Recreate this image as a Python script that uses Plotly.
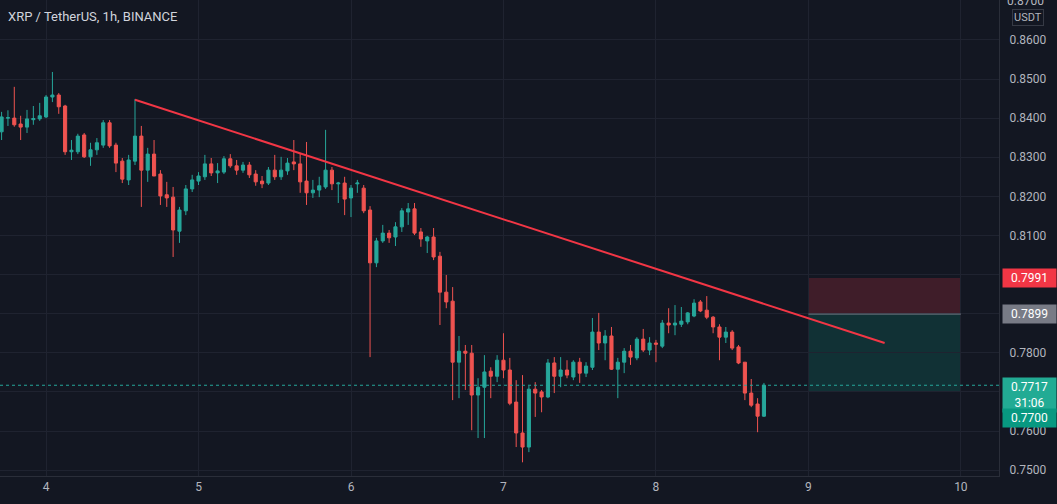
import plotly.graph_objects as go
import pandas as pd

# hourly XRP/USDT candles, 3 Jan 17:00 -> 8 Jan 17:00
times = pd.date_range("2022-01-03 17:00", periods=121, freq="h")

opens = [0.8365, 0.8400, 0.8400, 0.8385, 0.8377, 0.8396, 0.8398, 0.8403, 0.8454, 0.8459,
         0.8431, 0.8314, 0.8314, 0.8357, 0.8301, 0.8319, 0.8331, 0.8388, 0.8331, 0.8290,
         0.8242, 0.8290, 0.8354, 0.8267, 0.8308, 0.8257, 0.8204, 0.8198, 0.8111, 0.8163,
         0.8219, 0.8239, 0.8250, 0.8283, 0.8260, 0.8262, 0.8296, 0.8278, 0.8267, 0.8280,
         0.8257, 0.8239, 0.8234, 0.8267, 0.8250, 0.8265, 0.8288, 0.8283, 0.8239, 0.8209,
         0.8216, 0.8224, 0.8267, 0.8232, 0.8234, 0.8196, 0.8232, 0.8221, 0.8165, 0.8030,
         0.8086, 0.8106, 0.8096, 0.8122, 0.8160, 0.8168, 0.8109, 0.8086, 0.8096, 0.8047,
         0.7955, 0.7932, 0.7776, 0.7804, 0.7799, 0.7692, 0.7712, 0.7753, 0.7740, 0.7781,
         0.7756, 0.7674, 0.7595, 0.7559, 0.7707, 0.7700, 0.7687, 0.7774, 0.7740, 0.7756,
         0.7738, 0.7776, 0.7748, 0.7763, 0.7853, 0.7825, 0.7843, 0.7758, 0.7776, 0.7804,
         0.7787, 0.7835, 0.7807, 0.7825, 0.7817, 0.7876, 0.7871, 0.7873, 0.7879, 0.7894,
         0.7930, 0.7909, 0.7891, 0.7866, 0.7840, 0.7853, 0.7815, 0.7776, 0.7697, 0.7669,
         0.7638]
highs = [0.8416, 0.8420, 0.8480, 0.8406, 0.8421, 0.8431, 0.8439, 0.8459, 0.8518, 0.8464,
         0.8434, 0.8344, 0.8360, 0.8362, 0.8337, 0.8349, 0.8395, 0.8395, 0.8337, 0.8298,
         0.8306, 0.8449, 0.8380, 0.8324, 0.8344, 0.8267, 0.8237, 0.8224, 0.8173, 0.8229,
         0.8255, 0.8262, 0.8306, 0.8298, 0.8285, 0.8303, 0.8308, 0.8293, 0.8288, 0.8288,
         0.8267, 0.8252, 0.8275, 0.8306, 0.8301, 0.8298, 0.8344, 0.8311, 0.8339, 0.8242,
         0.8250, 0.8370, 0.8275, 0.8237, 0.8250, 0.8229, 0.8242, 0.8229, 0.8175, 0.8094,
         0.8127, 0.8114, 0.8134, 0.8170, 0.8183, 0.8183, 0.8119, 0.8099, 0.8119, 0.8058,
         0.7999, 0.7968, 0.7843, 0.7820, 0.7820, 0.7735, 0.7794, 0.7763, 0.7794, 0.7850,
         0.7787, 0.7730, 0.7743, 0.7715, 0.7725, 0.7705, 0.7784, 0.7789, 0.7789, 0.7781,
         0.7781, 0.7787, 0.7776, 0.7889, 0.7902, 0.7858, 0.7866, 0.7787, 0.7812, 0.7820,
         0.7840, 0.7861, 0.7840, 0.7833, 0.7884, 0.7914, 0.7922, 0.7917, 0.7904, 0.7937,
         0.7935, 0.7945, 0.7894, 0.7873, 0.7866, 0.7858, 0.7820, 0.7776, 0.7733, 0.7684,
         0.7723]
lows = [0.8344, 0.8380, 0.8378, 0.8344, 0.8362, 0.8383, 0.8393, 0.8400, 0.8441, 0.8411,
        0.8306, 0.8293, 0.8308, 0.8298, 0.8278, 0.8306, 0.8324, 0.8324, 0.8262, 0.8234,
        0.8229, 0.8280, 0.8173, 0.8237, 0.8252, 0.8178, 0.8173, 0.8045, 0.8081, 0.8152,
        0.8211, 0.8229, 0.8242, 0.8252, 0.8234, 0.8257, 0.8273, 0.8255, 0.8260, 0.8247,
        0.8227, 0.8221, 0.8229, 0.8242, 0.8242, 0.8255, 0.8267, 0.8209, 0.8178, 0.8196,
        0.8198, 0.8219, 0.8216, 0.8183, 0.8152, 0.8147, 0.8209, 0.8157, 0.7789, 0.8019,
        0.8081, 0.8081, 0.8073, 0.8109, 0.8127, 0.8101, 0.8071, 0.8055, 0.8037, 0.7871,
        0.7914, 0.7679, 0.7684, 0.7705, 0.7602, 0.7582, 0.7582, 0.7684, 0.7725, 0.7735,
        0.7666, 0.7559, 0.7520, 0.7546, 0.7636, 0.7648, 0.7684, 0.7697, 0.7712, 0.7735,
        0.7730, 0.7723, 0.7738, 0.7756, 0.7807, 0.7781, 0.7756, 0.7684, 0.7748, 0.7769,
        0.7781, 0.7802, 0.7794, 0.7776, 0.7812, 0.7850, 0.7845, 0.7866, 0.7873, 0.7891,
        0.7904, 0.7886, 0.7850, 0.7781, 0.7825, 0.7807, 0.7771, 0.7679, 0.7661, 0.7597,
        0.7636]
closes = [0.8403, 0.8401, 0.8383, 0.8377, 0.8398, 0.8399, 0.8406, 0.8454, 0.8459, 0.8429,
          0.8314, 0.8318, 0.8354, 0.8301, 0.8319, 0.8337, 0.8388, 0.8329, 0.8285, 0.8244,
          0.8293, 0.8354, 0.8267, 0.8308, 0.8252, 0.8201, 0.8196, 0.8114, 0.8165, 0.8219,
          0.8242, 0.8252, 0.8283, 0.8260, 0.8265, 0.8296, 0.8278, 0.8267, 0.8280, 0.8255,
          0.8237, 0.8232, 0.8267, 0.8250, 0.8267, 0.8285, 0.8283, 0.8237, 0.8209, 0.8216,
          0.8227, 0.8267, 0.8232, 0.8234, 0.8193, 0.8221, 0.8234, 0.8163, 0.8030, 0.8086,
          0.8106, 0.8094, 0.8122, 0.8163, 0.8168, 0.8106, 0.8091, 0.8096, 0.8045, 0.7955,
          0.7930, 0.7776, 0.7804, 0.7799, 0.7692, 0.7712, 0.7751, 0.7740, 0.7781, 0.7756,
          0.7671, 0.7595, 0.7559, 0.7707, 0.7697, 0.7687, 0.7774, 0.7740, 0.7756, 0.7743,
          0.7776, 0.7748, 0.7766, 0.7853, 0.7825, 0.7843, 0.7758, 0.7776, 0.7804, 0.7789,
          0.7835, 0.7807, 0.7825, 0.7822, 0.7876, 0.7871, 0.7876, 0.7881, 0.7902, 0.7927,
          0.7907, 0.7891, 0.7866, 0.7840, 0.7853, 0.7812, 0.7774, 0.7697, 0.7666, 0.7638,
          0.7717]

# drawings
trend_time = ["2022-01-04 14:00", "2022-01-09 12:00"]
trend_price = [0.8447, 0.7825]
position_time = ["2022-01-09 00:00", "2022-01-10 00:00"]
stop_price = 0.7991
entry_price = 0.7899
target_price = 0.7700
last_price = 0.7717
countdown = "31:06"

day_ticks = ["2022-01-04", "2022-01-05", "2022-01-06", "2022-01-07",
             "2022-01-08", "2022-01-09", "2022-01-10"]
day_labels = ["4", "5", "6", "7", "8", "9", "10"]

# price scale; labels hidden where the price tags sit on top of them
price_ticks = [0.75, 0.76, 0.77, 0.78, 0.79, 0.80, 0.81, 0.82, 0.83, 0.84, 0.85, 0.86, 0.87]
price_labels = ["0.7500", "0.7600", "", "0.7800", "", "", "0.8100", "0.8200",
                "0.8300", "0.8400", "0.8500", "0.8600", ""]
top_price = 0.87  # label cut by the top edge, drawn as annotation

bg = "#131722"
grid = "#1f2330"
txt = "#b2b5be"
up = "#26a69a"
down = "#ef5350"

fig = go.Figure()
fig.add_trace(go.Candlestick(
    x=times, open=opens, high=highs, low=lows, close=closes,
    increasing=dict(line=dict(color=up, width=1), fillcolor=up),
    decreasing=dict(line=dict(color=down, width=1), fillcolor=down),
    showlegend=False, hoverinfo="skip"))

# position tool boxes
fig.add_shape(type="rect", xref="x", yref="y", layer="below", line_width=0,
              x0=position_time[0], x1=position_time[1], y0=entry_price, y1=stop_price,
              fillcolor="rgba(242,54,69,0.2)")
fig.add_shape(type="rect", xref="x", yref="y", layer="below", line_width=0,
              x0=position_time[0], x1=position_time[1], y0=target_price, y1=entry_price,
              fillcolor="rgba(8,153,129,0.2)")
fig.add_shape(type="line", xref="x", yref="y",
              x0=position_time[0], x1=position_time[1], y0=entry_price, y1=entry_price,
              line=dict(color="#787b86", width=1))

# current price line
fig.add_shape(type="line", xref="paper", yref="y", x0=0, x1=1, y0=last_price, y1=last_price,
              line=dict(color=up, width=1, dash="dot"))

# trend line
fig.add_shape(type="line", xref="x", yref="y",
              x0=trend_time[0], x1=trend_time[1], y0=trend_price[0], y1=trend_price[1],
              line=dict(color="#f23645", width=2))


def price_tag(y, text, color, yshift=0, yanchor="middle"):
    fig.add_annotation(xref="paper", yref="y", x=1, y=y, xanchor="left", yanchor=yanchor,
                       xshift=3, yshift=yshift, text=text, showarrow=False,
                       bgcolor=color, width=49, borderpad=2, align="center",
                       font=dict(color="white", size=12))


price_tag(stop_price, f"{stop_price:.4f}", "#f23645")
price_tag(entry_price, f"{entry_price:.4f}", "#787b86")
price_tag(last_price, f"{last_price:.4f}<br>{countdown}", "#22ab94", yshift=8, yanchor="top")
price_tag(target_price, f"{target_price:.4f}", "#089981", yshift=-16, yanchor="top")

fig.add_annotation(xref="paper", yref="y", x=1, y=top_price, xanchor="left", yanchor="middle",
                   xshift=6, text=f"{top_price:.4f}", showarrow=False,
                   font=dict(color=txt, size=12))

fig.add_annotation(xref="paper", yref="paper", x=1, y=1, xanchor="left", yanchor="top",
                   xshift=13, yshift=-9, text="USDT", showarrow=False,
                   bordercolor="#363a45", borderwidth=1, borderpad=1,
                   font=dict(color=txt, size=11))

fig.add_annotation(xref="paper", yref="paper", x=0, y=1, xanchor="left", yanchor="middle",
                   xshift=6, yshift=-16, text="XRP / TetherUS, 1h, BINANCE", showarrow=False,
                   font=dict(color="#d1d4dc", size=13))

fig.update_layout(
    width=1057, height=504, autosize=False,
    margin=dict(l=0, r=58, t=0, b=28),
    paper_bgcolor=bg, plot_bgcolor=bg,
    font=dict(family="Roboto", size=12, color=txt),
    showlegend=False,
)
fig.update_xaxes(type="date", range=["2022-01-03 16:45", "2022-01-10 06:00"],
                 rangeslider_visible=False, tickvals=day_ticks, ticktext=day_labels,
                 showgrid=True, gridcolor=grid, zeroline=False,
                 showline=True, linecolor="#2a2e39", ticks="", tickfont=dict(color=txt, size=12))
fig.update_yaxes(side="right", range=[0.7485, 0.8702],
                 tickvals=price_ticks, ticktext=price_labels,
                 showgrid=True, gridcolor=grid, zeroline=False,
                 showline=True, linecolor="#2a2e39",
                 ticks="outside", ticklen=7, tickcolor="rgba(0,0,0,0)",
                 tickfont=dict(color=txt, size=12))

fig.write_html("out.html", config={"displayModeBar": False},
               post_script="document.body.style.margin='0';"
                           "document.body.style.background='%s';" % bg)
